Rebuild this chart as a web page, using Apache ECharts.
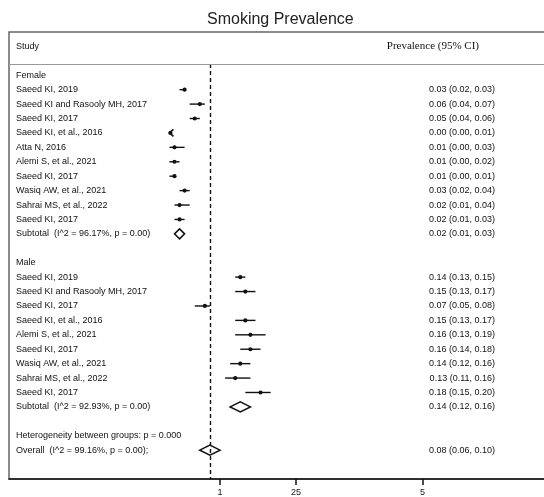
<!DOCTYPE html>
<html>
<head>
<meta charset="utf-8">
<script src="https://cdn.jsdelivr.net/npm/echarts@6/dist/echarts.min.js"></script>
<style>
html,body{margin:0;padding:0;background:#fff;}
#c{width:544px;height:497px;}
</style>
</head>
<body>
<div id="c"></div>
<script>
// ---- data ----
const femaleStudies = ['Saeed KI, 2019', 'Saeed KI and Rasooly MH, 2017', 'Saeed KI, 2017', 'Saeed KI, et al., 2016', 'Atta N, 2016', 'Alemi S, et al., 2021', 'Saeed KI, 2017', 'Wasiq AW, et al., 2021', 'Sahrai MS, et al., 2022', 'Saeed KI, 2017'];
const femaleEst = [0.03, 0.06, 0.05, 0.00, 0.01, 0.01, 0.01, 0.03, 0.02, 0.02];
const femaleLo  = [0.02, 0.04, 0.04, 0.00, 0.00, 0.00, 0.00, 0.02, 0.01, 0.01];
const femaleHi  = [0.03, 0.07, 0.06, 0.01, 0.03, 0.02, 0.01, 0.04, 0.04, 0.03];
const femaleSubtotal = [0.02, 0.01, 0.03];
const femaleSubtotalLabel = 'Subtotal  (I^2 = 96.17%, p = 0.00)';

const maleStudies = ['Saeed KI, 2019', 'Saeed KI and Rasooly MH, 2017', 'Saeed KI, 2017', 'Saeed KI, et al., 2016', 'Alemi S, et al., 2021', 'Saeed KI, 2017', 'Wasiq AW, et al., 2021', 'Sahrai MS, et al., 2022', 'Saeed KI, 2017'];
const maleEst = [0.14, 0.15, 0.07, 0.15, 0.16, 0.16, 0.14, 0.13, 0.18];
const maleLo  = [0.13, 0.13, 0.05, 0.13, 0.13, 0.14, 0.12, 0.11, 0.15];
const maleHi  = [0.15, 0.17, 0.08, 0.17, 0.19, 0.18, 0.16, 0.16, 0.20];
const maleSubtotal = [0.14, 0.12, 0.16];
const maleSubtotalLabel = 'Subtotal  (I^2 = 92.93%, p = 0.00)';

const heterogeneityLabel = 'Heterogeneity between groups: p = 0.000';
const overall = [0.08, 0.06, 0.10];
const overallLabel = 'Overall  (I^2 = 99.16%, p = 0.00);';

const xTickValues = [0.1, 0.25, 0.5];
const xTickLabels = ['1', '25', '5'];

const titleText = 'Smoking Prevalence';
const headerStudy = 'Study';
const headerEffect = 'Prevalence (95% CI)';

// ---- build rows ----
const NROWS = 31;
const leftLabels = new Array(NROWS + 1).fill('');
const rightLabels = new Array(NROWS + 1).fill('');
const marks = [];
const fmt = (e, l, h) => e.toFixed(2) + ' (' + l.toFixed(2) + ', ' + h.toFixed(2) + ')';

leftLabels[1] = headerStudy;
rightLabels[1] = '{h|' + headerEffect + '}';
let r = 3;
leftLabels[r++] = 'Female';
femaleStudies.forEach((s, i) => {
  leftLabels[r] = s;
  rightLabels[r] = fmt(femaleEst[i], femaleLo[i], femaleHi[i]);
  marks.push([femaleEst[i], femaleLo[i], femaleHi[i], r, 0]);
  r++;
});
leftLabels[r] = femaleSubtotalLabel;
rightLabels[r] = fmt(femaleSubtotal[0], femaleSubtotal[1], femaleSubtotal[2]);
marks.push([femaleSubtotal[0], femaleSubtotal[1], femaleSubtotal[2], r, 1]);
r += 2;
leftLabels[r++] = 'Male';
maleStudies.forEach((s, i) => {
  leftLabels[r] = s;
  rightLabels[r] = fmt(maleEst[i], maleLo[i], maleHi[i]);
  marks.push([maleEst[i], maleLo[i], maleHi[i], r, 0]);
  r++;
});
leftLabels[r] = maleSubtotalLabel;
rightLabels[r] = fmt(maleSubtotal[0], maleSubtotal[1], maleSubtotal[2]);
marks.push([maleSubtotal[0], maleSubtotal[1], maleSubtotal[2], r, 1]);
r += 2;
leftLabels[r++] = heterogeneityLabel;
leftLabels[r] = overallLabel;
rightLabels[r] = fmt(overall[0], overall[1], overall[2]);
marks.push([overall[0], overall[1], overall[2], r, 1]);

const SEP = 2.22;
const sans = "'Liberation Sans', Arial, sans-serif";

const chart = echarts.init(document.getElementById('c'), null, {renderer: 'canvas'});
chart.setOption({
  animation: false,
  backgroundColor: '#fff',
  title: {
    text: titleText,
    left: 207,
    top: 12,
    padding: 0,
    textStyle: {fontFamily: sans, fontSize: 16, fontWeight: 'normal', color: '#222'}
  },
  grid: {
    left: 9, right: -5, top: 32, bottom: 18,
    outerBoundsMode: 'none',
    containLabel: false,
    show: true, borderColor: '#666', borderWidth: 1.5, backgroundColor: 'transparent'
  },
  xAxis: {
    type: 'value',
    min: -0.317,
    max: 0.750,
    splitLine: {show: false},
    axisLine: {show: true, onZero: false, lineStyle: {color: '#111', width: 1.5}},
    axisTick: {show: true, length: 6, lineStyle: {color: '#111', width: 1.5}, customValues: xTickValues},
    axisLabel: {
      show: true, margin: 9, fontFamily: sans, fontSize: 9, color: '#111',
      customValues: xTickValues,
      formatter: v => {
        const i = xTickValues.findIndex(t => Math.abs(t - v) < 1e-9);
        return i >= 0 ? xTickLabels[i] : '';
      }
    }
  },
  yAxis: [{
    type: 'value',
    inverse: true,
    min: 0, max: NROWS, interval: 1,
    position: 'left',
    splitLine: {show: false},
    axisLine: {show: false, onZero: false},
    axisTick: {show: false},
    axisLabel: {
      inside: true, margin: 7, fontFamily: sans, fontSize: 9, color: '#111',
      formatter: v => leftLabels[Math.round(v)] || ''
    }
  }, {
    type: 'value',
    inverse: true,
    min: 0, max: NROWS, interval: 1,
    position: 'right',
    splitLine: {show: false},
    axisLine: {show: false, onZero: false},
    axisTick: {show: false},
    axisLabel: {
      inside: true, margin: 54, fontFamily: sans, fontSize: 9, color: '#111',
      formatter: v => rightLabels[Math.round(v)] || '',
      rich: {
        h: {fontFamily: "'Liberation Serif', 'Times New Roman', serif", fontSize: 11, color: '#111', padding: [0, 16, 0, 0]}
      }
    }
  }],
  series: [{
    type: 'custom',
    xAxisIndex: 0,
    yAxisIndex: 0,
    silent: true,
    clip: false,
    data: marks,
    encode: {x: [0, 1, 2], y: 3},
    renderItem: (params, api) => {
      const est = api.value(0), lo = api.value(1), hi = api.value(2), row = api.value(3), kind = api.value(4);
      const pe = api.coord([est, row]);
      const pl = api.coord([lo, row]);
      const ph = api.coord([hi, row]);
      const y = pe[1];
      if (kind === 1) {
        const hh = 5;
        return {
          type: 'polygon',
          shape: {points: [[pl[0], y], [pe[0], y - hh], [ph[0], y], [pe[0], y + hh]]},
          style: {fill: '#fff', stroke: '#111', lineWidth: 1.5}
        };
      }
      const children = [];
      if (est <= 0 && lo <= 0) {
        // estimate at the lower plot limit: arrow pointing left
        children.push({
          type: 'polyline',
          shape: {points: [[pe[0] + 4, y - 3.5], [pe[0], y], [pe[0] + 4, y + 3.5]]},
          style: {stroke: '#111', lineWidth: 1.6, fill: null}
        });
      } else {
        children.push({
          type: 'line',
          shape: {x1: pl[0], y1: y, x2: ph[0], y2: y},
          style: {stroke: '#111', lineWidth: 1.4}
        });
      }
      children.push({
        type: 'circle',
        shape: {cx: pe[0] + (est <= 0 ? 1 : 0), cy: y, r: 2.1},
        style: {fill: '#111'}
      });
      return {type: 'group', children};
    }
  }, {
    type: 'line',
    data: [],
    silent: true,
    markLine: {
      silent: true,
      symbol: 'none',
      label: {show: false},
      animation: false,
      data: [
        [{coord: [overall[0], SEP], lineStyle: {color: '#111', width: 1.4, type: [4, 3]}}, {coord: [overall[0], NROWS]}],
        {yAxis: SEP, lineStyle: {color: '#999', width: 1, type: 'solid'}}
      ]
    }
  }]
});
</script>
</body>
</html>
